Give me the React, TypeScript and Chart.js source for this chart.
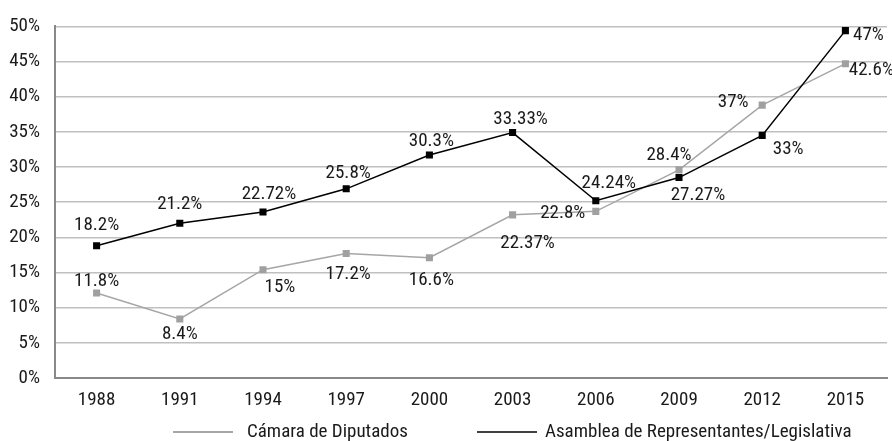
import React, { useEffect, useRef } from "react";
import { Chart, registerables } from "chart.js";

Chart.register(...registerables);

// ---- data ----
const YEARS = ["1988", "1991", "1994", "1997", "2000", "2003", "2006", "2009", "2012", "2015"];

const CAMARA_NAME = "Cámara de Diputados";
const CAMARA_VALUES = [12.1, 8.4, 15.4, 17.7, 17.1, 23.2, 23.7, 29.6, 38.8, 44.7];
const CAMARA_LABELS = ["11.8%", "8.4%", "15%", "17.2%", "16.6%", "22.37%", "22.8%", "28.4%", "37%", "42.6%"];

const ASAMBLEA_NAME = "Asamblea de Representantes/Legislativa";
const ASAMBLEA_VALUES = [18.8, 22.0, 23.6, 26.9, 31.7, 34.9, 25.2, 28.5, 34.5, 49.4];
const ASAMBLEA_LABELS = ["18.2%", "21.2%", "22.72%", "25.8%", "30.3%", "33.33%", "24.24%", "27.27%", "33%", "47%"];

const Y_MIN = 0;
const Y_MAX = 50;
const Y_STEP = 5;

// ---- label placement (pixel offsets from each point) ----
const CAMARA_LABEL_OFFSETS = [
  [0, -12], [0, 15], [17, 18], [2, 21], [2, 22], [15, 28], [-33, 2], [-10, -15], [-29, -3], [26, 7],
];
const ASAMBLEA_LABEL_OFFSETS = [
  [0, -21], [0, -19], [6, -18], [2, -16], [2, -14], [8, -13], [13, -18], [19, 18], [26, 14], [23, 5],
];

const FONT = '"Liberation Sans Narrow", "Roboto Condensed", "DejaVu Sans Condensed", "Open Sans", sans-serif';
const FONT_SIZE = 19;
const TEXT_COLOR = "#1a1a1a";

const pointLabelPlugin = {
  id: "pointLabelPlugin",
  afterDatasetsDraw(chart: any) {
    const ctx = chart.ctx;
    ctx.save();
    ctx.font = `${FONT_SIZE}px ${FONT}`;
    ctx.fillStyle = TEXT_COLOR;
    ctx.textAlign = "center";
    ctx.textBaseline = "middle";
    chart.data.datasets.forEach((ds: any, di: number) => {
      const meta = chart.getDatasetMeta(di);
      meta.data.forEach((pt: any, i: number) => {
        const off = ds.labelOffsets[i];
        ctx.fillText(ds.pointLabels[i], pt.x + off[0], pt.y + off[1]);
      });
    });
    ctx.restore();
  },
};

const legendPlugin = {
  id: "customLegend",
  afterDraw(chart: any) {
    const ctx = chart.ctx;
    const y = 432;
    const items = [
      { name: CAMARA_NAME, color: "#8a8a8a", x0: 173, x1: 233, tx: 247 },
      { name: ASAMBLEA_NAME, color: "#000000", x0: 477, x1: 537, tx: 545 },
    ];
    ctx.save();
    ctx.font = `${FONT_SIZE}px ${FONT}`;
    ctx.fillStyle = TEXT_COLOR;
    ctx.textAlign = "left";
    ctx.textBaseline = "middle";
    items.forEach((it) => {
      ctx.strokeStyle = it.color;
      ctx.lineWidth = 1.5;
      ctx.beginPath();
      ctx.moveTo(it.x0, y);
      ctx.lineTo(it.x1, y);
      ctx.stroke();
      ctx.fillText(it.name, it.tx, y);
    });
    ctx.restore();
  },
};

export default function App() {
  const canvasRef = useRef<HTMLCanvasElement | null>(null);

  useEffect(() => {
    document.body.style.margin = "0";
    const canvas = canvasRef.current;
    if (!canvas) return;
    const chart = new Chart(canvas, {
      type: "line",
      data: {
        labels: YEARS,
        datasets: [
          {
            label: CAMARA_NAME,
            data: CAMARA_VALUES,
            borderColor: "#a6a6a6",
            backgroundColor: "#a0a0a0",
            pointBackgroundColor: "#a0a0a0",
            pointBorderColor: "#a0a0a0",
            borderWidth: 1.5,
            pointStyle: "rect",
            pointRadius: 5,
            pointBorderWidth: 0,
            order: 1,
            pointLabels: CAMARA_LABELS,
            labelOffsets: CAMARA_LABEL_OFFSETS,
          } as any,
          {
            label: ASAMBLEA_NAME,
            data: ASAMBLEA_VALUES,
            borderColor: "#000000",
            backgroundColor: "#000000",
            pointBackgroundColor: "#000000",
            pointBorderColor: "#000000",
            borderWidth: 1.5,
            pointStyle: "rect",
            pointRadius: 5,
            pointBorderWidth: 0,
            order: 0,
            pointLabels: ASAMBLEA_LABELS,
            labelOffsets: ASAMBLEA_LABEL_OFFSETS,
          } as any,
        ],
      },
      options: {
        responsive: false,
        animation: false,
        layout: { padding: { top: 22, right: 3, bottom: 33, left: 0 } },
        plugins: {
          legend: { display: false },
          tooltip: { enabled: false },
        },
        scales: {
          x: {
            type: "category",
            offset: true,
            grid: { display: false },
            border: { display: true, color: "#888888", width: 2 },
            ticks: {
              color: TEXT_COLOR,
              font: { family: FONT, size: FONT_SIZE },
              padding: 3,
              maxRotation: 0,
            },
            afterFit(scale: any) {
              scale.height = 30;
            },
          },
          y: {
            min: Y_MIN,
            max: Y_MAX,
            grid: { color: "#c0c0c0", lineWidth: 1.5, drawTicks: false },
            border: { display: true, color: "#888888", width: 2 },
            ticks: {
              stepSize: Y_STEP,
              color: TEXT_COLOR,
              font: { family: FONT, size: FONT_SIZE },
              padding: 15,
              callback: (v: any) => `${v}%`,
            },
            afterFit(scale: any) {
              scale.width = 55;
            },
          },
        },
      },
      plugins: [pointLabelPlugin, legendPlugin],
    });
    return () => chart.destroy();
  }, []);

  return (
    <div style={{ width: 892, height: 441 }}>
      <canvas ref={canvasRef} width={892} height={441} style={{ display: "block" }} />
    </div>
  );
}
